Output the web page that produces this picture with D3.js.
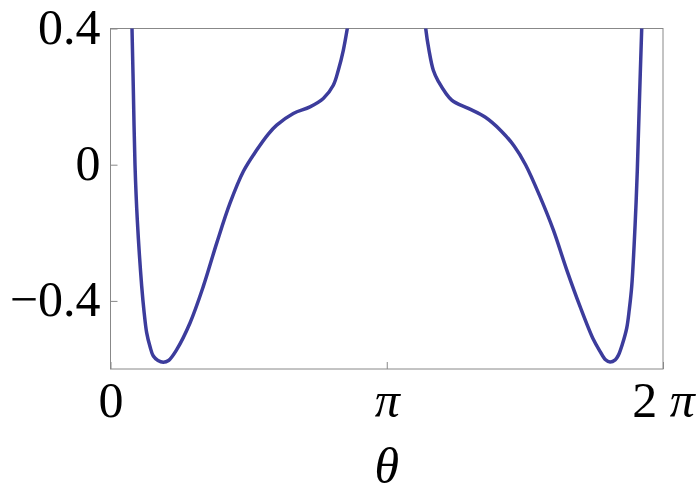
<!DOCTYPE html>
<html>
<head>
<meta charset="utf-8">
<script src="https://cdn.jsdelivr.net/npm/d3@7"></script>
<style>
  body { margin: 0; background: #fff; }
  svg { display: block; }
  .tick text { font-family: "Liberation Serif", "Times New Roman", serif; font-size: 50px; fill: #000; }
</style>
</head>
<body>
<div id="chart"></div>
<script>
// data (theta in radians, value on y)
const thetaLeft = [0.235, 0.2445, 0.259, 0.2786, 0.3048, 0.3548, 0.383, 0.4117, 0.45, 0.4868, 0.54, 0.6005, 0.66, 0.7529,
  0.9041, 1.0554, 1.2078, 1.359, 1.5103, 1.6627, 1.7946, 1.8901, 2.0789, 2.2688, 2.4201, 2.5338, 2.5907, 2.6476, 2.6931, 2.712];
const valueLeft = [0.46, 0.40, 0.2286, 0.0, -0.162, -0.357, -0.435, -0.494, -0.535, -0.562, -0.575, -0.580, -0.575, -0.543,
  -0.4648, -0.3575, -0.2303, -0.1131, -0.020, 0.043, 0.090, 0.1163, 0.1506, 0.170, 0.1946, 0.2335, 0.2775, 0.3361, 0.40, 0.43];
const thetaRight = [3.575, 3.5847, 3.622, 3.6711, 3.728, 3.8804, 4.0691, 4.2591, 4.44, 4.59, 4.72, 4.8846, 5.0358,
  5.1882, 5.3395, 5.4907, 5.5669, 5.63, 5.6806, 5.74, 5.775, 5.82, 5.8706, 5.90, 5.9275, 5.965, 5.9911, 6.0139, 6.0412, 6.05];
const valueRight = [0.43, 0.40, 0.336, 0.2775, 0.245, 0.1896, 0.1653, 0.140, 0.100, 0.055, 0.0, -0.0938, -0.1915,
  -0.3087, -0.4161, -0.5128, -0.548, -0.573, -0.5795, -0.573, -0.560, -0.528, -0.48, -0.425, -0.3575, -0.1817, -0.0158,
  0.1773, 0.40, 0.46];

const xTicks = [0, Math.PI, 2 * Math.PI];
const xTickLabels = ["0", "π", "2 π"];
const yTicks = [-0.4, 0, 0.4];
const yTickLabels = ["\u22120.4", "0", "0.4"];

const width = 696, height = 495;
const margin = {top: 28.5, right: 33, bottom: 126, left: 110.5};
const w = width - margin.left - margin.right;
const h = height - margin.top - margin.bottom;

const svg = d3.select("#chart").append("svg")
  .attr("width", width)
  .attr("height", height);

const g = svg.append("g").attr("transform", `translate(${margin.left},${margin.top})`);

const x = d3.scaleLinear().domain([0, 2 * Math.PI]).range([0, w]);
const y = d3.scaleLinear().domain([-0.6, 0.4]).range([h, 0]);

svg.append("defs").append("clipPath").attr("id", "clip")
  .append("rect").attr("width", w).attr("height", h);

//axes, ticks pointing inward
const yAxis = g.append("g")
  .call(d3.axisLeft(y).tickValues(yTicks).tickSizeInner(-7).tickSizeOuter(0).tickPadding(10)
    .tickFormat((d, i) => yTickLabels[i]));
yAxis.select(".domain").remove();
yAxis.selectAll(".tick line").attr("stroke", "#888");
yAxis.selectAll(".tick text").attr("dy", "0.3em");

const xAxis = g.append("g")
  .attr("transform", `translate(0,${h})`)
  .call(d3.axisBottom(x).tickValues(xTicks).tickSizeInner(-7).tickSizeOuter(0).tickPadding(12)
    .tickFormat(() => ""));
xAxis.select(".domain").remove();
xAxis.selectAll(".tick line").attr("stroke", "#888");
xAxis.selectAll(".tick text").each(function (d, i) {
  const t = d3.select(this);
  const lab = xTickLabels[i];
  if (lab.includes("π")) {
    const parts = lab.split("π");
    if (parts[0]) t.append("tspan").text(parts[0]);
    t.append("tspan").attr("font-style", "italic").text("π");
  } else {
    t.text(lab);
  }
});

// frame
g.append("rect")
  .attr("width", w).attr("height", h)
  .attr("fill", "none").attr("stroke", "#888").attr("stroke-width", 1);

// x axis title
svg.append("text")
  .attr("x", margin.left + x(Math.PI))
  .attr("y", 483)
  .attr("text-anchor", "middle")
  .attr("font-family", "'Liberation Serif', 'Times New Roman', serif")
  .attr("font-style", "italic")
  .attr("font-size", 50)
  .text("θ");

// curve
const line = d3.line()
  .x(d => x(d[0]))
  .y(d => y(d[1]))
  .curve(d3.curveCatmullRom.alpha(0.5));

const segments = [
  d3.zip(thetaLeft, valueLeft),
  d3.zip(thetaRight, valueRight)
];

g.append("g").attr("clip-path", "url(#clip)")
  .selectAll("path")
  .data(segments)
  .join("path")
  .attr("d", line)
  .attr("fill", "none")
  .attr("stroke", "#3c3c9c")
  .attr("stroke-width", 3.5)
  .attr("stroke-linejoin", "round");
</script>
</body>
</html>
